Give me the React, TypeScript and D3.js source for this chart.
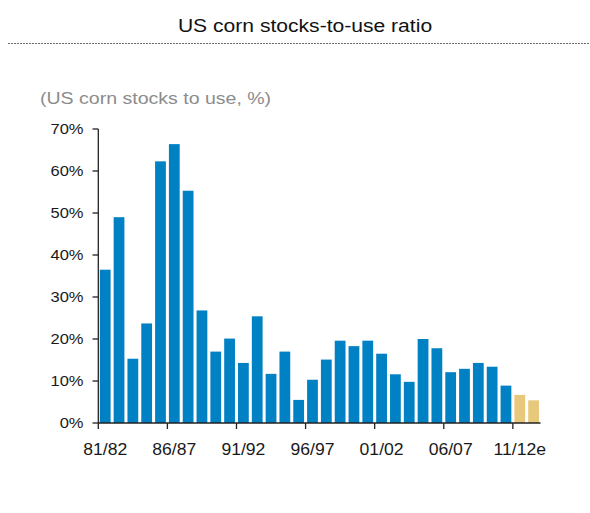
import React from "react";
import * as d3 from "d3";

const seasons = [
  "81/82", "82/83", "83/84", "84/85", "85/86", "86/87", "87/88", "88/89", "89/90", "90/91",
  "91/92", "92/93", "93/94", "94/95", "95/96", "96/97", "97/98", "98/99", "99/00", "00/01",
  "01/02", "02/03", "03/04", "04/05", "05/06", "06/07", "07/08", "08/09", "09/10", "10/11",
  "11/12e", "12/13e",
];
const stocksToUse = [
  36.5, 49.0, 15.3, 23.7, 62.3, 66.4, 55.3, 26.8, 17.0, 20.1,
  14.3, 25.4, 11.7, 17.0, 5.5, 10.3, 15.1, 19.6, 18.3, 19.6,
  16.5, 11.6, 9.8, 20.0, 17.8, 12.1, 12.9, 14.3, 13.4, 8.9,
  6.7, 5.4,
];
const isEstimate = seasons.map((s) => s.endsWith("e"));
const yTicks = [0, 10, 20, 30, 40, 50, 60, 70];
const xLabelSeasons = ["81/82", "86/87", "91/92", "96/97", "01/02", "06/07", "11/12e"];

const W = 590;
const H = 513;
const font = "'Liberation Sans', Arial, Helvetica, sans-serif";

export default function App() {
  const x = d3
    .scaleBand<string>()
    .domain(seasons)
    .range([98.3, 540.5])
    .paddingInner(0.22)
    .paddingOuter(0.11);
  const y = d3.scaleLinear().domain([0, 70]).range([423, 129]);
  const step = x.step();
  const boundary = (s: string) => (x(s) as number) - step * 0.11;
  const center = (s: string) => (x(s) as number) + x.bandwidth() / 2;
  const y0 = y(0);

  return (
    <svg
      width={W}
      height={H}
      style={{ position: "absolute", left: 0, top: 0, background: "#fff" }}
      fontFamily={font}
    >
      <text
        transform={`translate(305,32) scale(1.14,1)`}
        textAnchor="middle"
        fontSize={18.5}
        fill="#111"
      >
        US corn stocks-to-use ratio
      </text>
      <line x1={8} x2={590} y1={43.5} y2={43.5} stroke="#6e6e6e" strokeWidth={1.2} strokeDasharray="2 1" />
      <text
        transform={`translate(40,104) scale(1.15,1)`}
        fontSize={17}
        fill="#8c8c8c"
      >
        (US corn stocks to use, %)
      </text>

      {seasons.map((s, i) => (
        <rect
          key={s}
          x={x(s)}
          y={y(stocksToUse[i])}
          width={x.bandwidth()}
          height={y0 - y(stocksToUse[i])}
          fill={isEstimate[i] ? "#E8C97C" : "#0081C4"}
        />
      ))}

      {/* y axis */}
      <line x1={98.3} x2={98.3} y1={y(70)} y2={y0} stroke="#222" strokeWidth={1.3} />
      {yTicks.map((t) => (
        <g key={t}>
          <line x1={92.5} x2={98.3} y1={y(t)} y2={y(t)} stroke="#222" strokeWidth={1.3} />
          <text
            transform={`translate(83.5,${y(t) + 5}) scale(1.1,1)`}
            textAnchor="end"
            fontSize={15}
            fill="#1a1a1a"
          >
            {t}%
          </text>
        </g>
      ))}

      {/* x axis */}
      <line x1={98.3} x2={540.5} y1={y0} y2={y0} stroke="#222" strokeWidth={1.3} />
      {xLabelSeasons.map((s) => (
        <g key={s}>
          <line x1={boundary(s)} x2={boundary(s)} y1={y0} y2={y0 + 6} stroke="#222" strokeWidth={1.3} />
          <text
            transform={`translate(${center(s)},455) scale(1.1,1)`}
            textAnchor="middle"
            fontSize={16}
            fill="#1a1a1a"
          >
            {s}
          </text>
        </g>
      ))}
    </svg>
  );
}
